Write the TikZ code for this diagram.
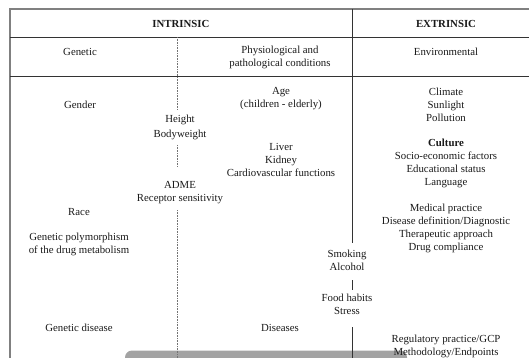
\documentclass[tikz,border=0pt]{standalone}
\usepackage{fontspec}
\setmainfont{Liberation Serif}
\begin{document}
\begin{tikzpicture}[x=1pt,y=-1pt,
  txt/.style={inner sep=0pt,align=center,font=\fontsize{10.8}{13}\selectfont,text=black!90},
  hdr/.style={txt,font=\fontsize{10.8}{13}\selectfont\bfseries},
  border/.style={draw=black!50,line width=1.4pt},
  rule/.style={draw=black!80,line width=0.8pt},
  dotrule/.style={draw=black!55,line width=0.6pt,densely dotted}]
\useasboundingbox (0,0) rectangle (529,358);
\clip (0,0) rectangle (529,358);
% gray shape at bottom
\fill[black!36, rounded corners=7pt] (125,350.5) rectangle (407,380);
% table rules
\draw[border] (10,370) -- (10,9) -- (540,9);
\draw[rule] (10,37) -- (540,37);
\draw[rule] (10,76) -- (540,76);
% headers
\node[hdr] (intr) at (181,23.5) {INTRINSIC};
\node[hdr] (extr) at (446,23.5) {EXTRINSIC};
% second row
\node[txt] (gen) at (80,51.5) {Genetic};
\node[txt] (phys) at (280,57) {Physiological and\\pathological conditions};
\node[txt] (env) at (446,51.5) {Environmental};
% body
\node[txt] (gender) at (80,105) {Gender};
\node[txt] (age) at (281,98.5) {Age\\(children - elderly)};
\node[txt] (clim) at (446,105) {Climate\\Sunlight\\Pollution};
\node[txt] (height) at (180,120) {Height};
\node[txt] (bw) at (180,135) {Bodyweight};
\node[txt] (liver) at (281,160) {Liver\\Kidney\\Cardiovascular functions};
\node[txt] (cult) at (446,163.5) {\textbf{Culture}\\Socio-economic factors\\Educational status\\Language};
\node[txt] (adme) at (180,193) {ADME\\Receptor sensitivity};
\node[txt] (race) at (79,212) {Race};
\node[txt] (med) at (446,228.5) {Medical practice\\Disease definition/Diagnostic\\Therapeutic approach\\Drug compliance};
\node[txt] (poly) at (79,244.5) {Genetic polymorphism\\of the drug metabolism};
\node[txt] (smoke) at (347,260.5) {Smoking\\Alcohol};
\node[txt] (food) at (347,304.5) {Food habits\\Stress};
\node[txt] (gdis) at (79,328) {Genetic disease};
\node[txt] (dis) at (280,328) {Diseases};
\node[txt] (reg) at (446,346.5) {Regulatory practice/GCP\\Methodology/Endpoints};
% solid vertical divider
\draw[rule] (352,9) -- (352,243);
\draw[rule] (352,280) -- (352,290);
\draw[rule] (352,327) -- (352,370);
% dotted vertical divider
\draw[dotrule] (177,37) -- (177,110);
\draw[dotrule] (177,145) -- (177,167);
\draw[dotrule] (177,210) -- (177,370);
\end{tikzpicture}
\end{document}
